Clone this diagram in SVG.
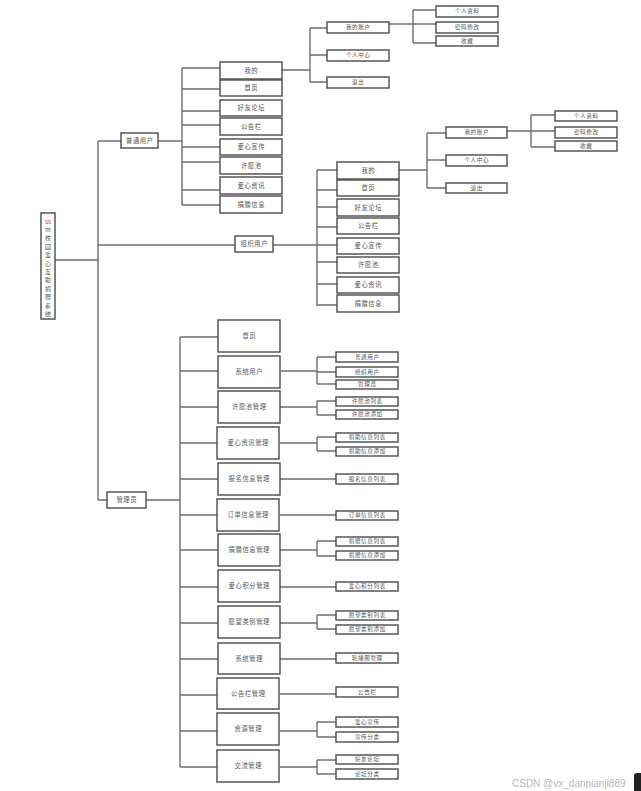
<svg xmlns="http://www.w3.org/2000/svg" width="641" height="791" viewBox="0 0 641 791">
<style>
.b{fill:#fff;stroke:#4a4a4a;stroke-width:1.4}
.c{fill:none;stroke:#6e6e6e;stroke-width:1.4}
text{font-family:"Noto Sans CJK SC","Noto Sans",sans-serif;fill:#555;text-anchor:middle;dominant-baseline:central}
.s{font-size:5.6px;letter-spacing:0.6px}
.m{font-size:6.3px;letter-spacing:0.6px}
.r{font-size:6px}
.w{font-family:"Liberation Sans",Arial,sans-serif;font-size:10px;fill:#b8b8b8;text-anchor:start;letter-spacing:0}
</style>
<rect width="641" height="791" fill="#fff"/>
<g id="connectors" class="c">
<path d="M55 260H98M98 141V500M98 141H121M98 245H236M98 500H107"/>
<path d="M158 141H182M182 68V205M182 68H220M182 89H220M182 111H220M182 125H220M182 147H220M182 162H220M182 190H220M182 205H220"/>
<path d="M282 70H310M310 28V82M310 28H327M310 55H327M310 82H327"/>
<path d="M389 24H436M413 10V43M413 10H436M413 43H436"/>
<path d="M273 245H317M317 170V306M317 170H337M317 190H337M317 207H337M317 227H337M317 245H337M317 262H337M317 284H337M317 305H337"/>
<path d="M399 170H427M427 133V188M427 133H446M427 160H446M427 188H446"/>
<path d="M507 131H555M531 115V147M531 115H555M531 147H555"/>
<path d="M146 500H180M180 337V767M180 337H218M180 371H218M180 407H218M180 443H218M180 479H218M180 515H218M180 550H218M180 587H218M180 623H218M180 659H218M180 695H218M180 731H218M180 767H218"/>
<path d="M281 371H317M317 357V384M317 357H336M317 372H336M317 384H336"/>
<path d="M280 407H317M317 401V415M317 401H336M317 415H336"/>
<path d="M280 443H317M317 437V451M317 437H336M317 451H336"/>
<path d="M280 479H336M280 515H336M280 587H336M280 659H336M280 694H336"/>
<path d="M280 550H317M317 541V556M317 541H336M317 556H336"/>
<path d="M280 623H317M317 615V629M317 615H336M317 629H336"/>
<path d="M280 731H317M317 722V737M317 722H336M317 737H336"/>
<path d="M280 767H317M317 760V774M317 760H336M317 774H336"/>
</g>
<g id="root"><rect class="b" x="41" y="213" width="14" height="106"/>
<text class="r" x="48" y="221" style="fill:#c0392b">ss</text>
<text class="r" x="48" y="229.4">m</text><text class="r" x="48" y="237.8">校</text><text class="r" x="48" y="246.2">园</text><text class="r" x="48" y="254.6">爱</text><text class="r" x="48" y="263">心</text><text class="r" x="48" y="271.4">互</text><text class="r" x="48" y="279.8">助</text><text class="r" x="48" y="288.2">捐</text><text class="r" x="48" y="296.6">赠</text><text class="r" x="48" y="305">系</text><text class="r" x="48" y="313.4">统</text></g>
<g id="n-putong"><rect class="b" x="121" y="133" width="37" height="15"/><text class="m" x="139.8" y="140">普通用户</text></g>
<g id="n-p-wode"><rect class="b" x="220" y="62" width="62" height="17"/><text class="m" x="251.3" y="70">我的</text></g>
<g id="n-p-shouye"><rect class="b" x="220" y="80" width="62" height="16"/><text class="m" x="251.3" y="87.5">首页</text></g>
<g id="n-p-haoyou"><rect class="b" x="220" y="100" width="62" height="16"/><text class="m" x="251.3" y="107.5">好友论坛</text></g>
<g id="n-p-gonggao"><rect class="b" x="220" y="118" width="62" height="17"/><text class="m" x="251.3" y="126">公告栏</text></g>
<g id="n-p-xuanchuan"><rect class="b" x="220" y="139" width="62" height="16"/><text class="m" x="251.3" y="146.5">爱心宣传</text></g>
<g id="n-p-xuyuan"><rect class="b" x="220" y="157" width="62" height="17"/><text class="m" x="251.3" y="165">许愿池</text></g>
<g id="n-p-zixun"><rect class="b" x="220" y="177" width="62" height="17"/><text class="m" x="251.3" y="185">爱心资讯</text></g>
<g id="n-p-juanzeng"><rect class="b" x="220" y="196" width="62" height="17"/><text class="m" x="251.3" y="204">捐赠信息</text></g>
<g id="n-p-zhanghu"><rect class="b" x="327" y="22" width="62" height="11"/><text class="s" x="358.3" y="27">我的账户</text></g>
<g id="n-p-zhongxin"><rect class="b" x="327" y="50" width="62" height="11"/><text class="s" x="358.3" y="55">个人中心</text></g>
<g id="n-p-tuichu"><rect class="b" x="327" y="77" width="62" height="11"/><text class="s" x="358.3" y="82">退出</text></g>
<g id="n-p-ziliao"><rect class="b" x="436" y="6" width="62" height="11"/><text class="s" x="467.3" y="11">个人资料</text></g>
<g id="n-p-mima"><rect class="b" x="436" y="22" width="62" height="11"/><text class="s" x="467.3" y="27">密码修改</text></g>
<g id="n-p-shoucang"><rect class="b" x="436" y="36" width="62" height="10"/><text class="s" x="467.3" y="40.5">收藏</text></g>
<g id="n-zuzhi"><rect class="b" x="235" y="236" width="38" height="16"/><text class="m" x="254.3" y="243.5">组织用户</text></g>
<g id="n-z-wode"><rect class="b" x="337" y="162" width="62" height="17"/><text class="m" x="368.3" y="170">我的</text></g>
<g id="n-z-shouye"><rect class="b" x="337" y="180" width="62" height="16"/><text class="m" x="368.3" y="187.5">首页</text></g>
<g id="n-z-haoyou"><rect class="b" x="337" y="199" width="62" height="17"/><text class="m" x="368.3" y="207">好友论坛</text></g>
<g id="n-z-gonggao"><rect class="b" x="337" y="218" width="62" height="16"/><text class="m" x="368.3" y="225.5">公告栏</text></g>
<g id="n-z-xuanchuan"><rect class="b" x="337" y="238" width="62" height="16"/><text class="m" x="368.3" y="245.5">爱心宣传</text></g>
<g id="n-z-xuyuan"><rect class="b" x="337" y="257" width="62" height="16"/><text class="m" x="368.3" y="264.5">许愿池</text></g>
<g id="n-z-zixun"><rect class="b" x="337" y="277" width="62" height="16"/><text class="m" x="368.3" y="284.5">爱心资讯</text></g>
<g id="n-z-juanzeng"><rect class="b" x="337" y="295" width="62" height="17"/><text class="m" x="368.3" y="303">捐赠信息</text></g>
<g id="n-z-zhanghu"><rect class="b" x="446" y="127" width="61" height="11"/><text class="s" x="476.8" y="132">我的账户</text></g>
<g id="n-z-zhongxin"><rect class="b" x="446" y="155" width="61" height="11"/><text class="s" x="476.8" y="160">个人中心</text></g>
<g id="n-z-tuichu"><rect class="b" x="446" y="183" width="61" height="10"/><text class="s" x="476.8" y="187.5">退出</text></g>
<g id="n-z-ziliao"><rect class="b" x="555" y="111" width="62" height="10"/><text class="s" x="586.3" y="115.5">个人资料</text></g>
<g id="n-z-mima"><rect class="b" x="555" y="127" width="62" height="11"/><text class="s" x="586.3" y="132">密码修改</text></g>
<g id="n-z-shoucang"><rect class="b" x="555" y="141" width="62" height="10"/><text class="s" x="586.3" y="145.5">收藏</text></g>
<g id="n-admin"><rect class="b" x="107" y="492" width="39" height="16"/><text class="m" x="126.8" y="499.5">管理员</text></g>
<g id="n-a-shouye"><rect class="b" x="218" y="320" width="62" height="32"/><text class="m" x="249.3" y="335.5">首页</text></g>
<g id="n-a-yonghu"><rect class="b" x="218" y="356" width="62" height="32"/><text class="m" x="249.3" y="371.5">系统用户</text></g>
<g id="n-a-xuyuan"><rect class="b" x="218" y="391" width="62" height="32"/><text class="m" x="249.3" y="406.5">许愿池管理</text></g>
<g id="n-a-zixun"><rect class="b" x="217" y="427" width="62" height="32"/><text class="m" x="248.3" y="442.5">爱心资讯管理</text></g>
<g id="n-a-baoming"><rect class="b" x="218" y="463" width="62" height="32"/><text class="m" x="249.3" y="478.5">报名信息管理</text></g>
<g id="n-a-dingdan"><rect class="b" x="217" y="499" width="62" height="32"/><text class="m" x="248.3" y="514.5">订单信息管理</text></g>
<g id="n-a-juanzeng"><rect class="b" x="218" y="534" width="62" height="32"/><text class="m" x="249.3" y="549.5">捐赠信息管理</text></g>
<g id="n-a-jifen"><rect class="b" x="218" y="570" width="62" height="32"/><text class="m" x="249.3" y="585.5">爱心积分管理</text></g>
<g id="n-a-leibie"><rect class="b" x="218" y="606" width="62" height="32"/><text class="m" x="249.3" y="621.5">愿望类别管理</text></g>
<g id="n-a-xitong"><rect class="b" x="218" y="643" width="62" height="31"/><text class="m" x="249.3" y="658">系统管理</text></g>
<g id="n-a-gonggao"><rect class="b" x="217" y="678" width="62" height="31"/><text class="m" x="248.3" y="693">公告栏管理</text></g>
<g id="n-a-ziyuan"><rect class="b" x="217" y="713" width="62" height="32"/><text class="m" x="248.3" y="728.5">资源管理</text></g>
<g id="n-a-jiaoliu"><rect class="b" x="217" y="750" width="62" height="32"/><text class="m" x="248.3" y="765.5">交流管理</text></g>
<g id="n-a-putong"><rect class="b" x="336" y="352" width="62" height="10"/><text class="s" x="367.3" y="356.5">普通用户</text></g>
<g id="n-a-zuzhi"><rect class="b" x="336" y="367" width="62" height="10"/><text class="s" x="367.3" y="371.5">组织用户</text></g>
<g id="n-a-guanli"><rect class="b" x="336" y="380" width="62" height="9"/><text class="s" x="367.3" y="384">管理员</text></g>
<g id="n-a-xylb"><rect class="b" x="336" y="397" width="62" height="9"/><text class="s" x="367.3" y="401">许愿池列表</text></g>
<g id="n-a-xytj"><rect class="b" x="336" y="410" width="62" height="9"/><text class="s" x="367.3" y="414">许愿池添加</text></g>
<g id="n-a-jzlb"><rect class="b" x="336" y="433" width="62" height="9"/><text class="s" x="367.3" y="437">捐助信息列表</text></g>
<g id="n-a-jztj"><rect class="b" x="336" y="447" width="62" height="9"/><text class="s" x="367.3" y="451">捐助信息添加</text></g>
<g id="n-a-bmlb"><rect class="b" x="336" y="474" width="62" height="10"/><text class="s" x="367.3" y="478.5">报名信息列表</text></g>
<g id="n-a-ddlb"><rect class="b" x="336" y="511" width="62" height="9"/><text class="s" x="367.3" y="515">订单信息列表</text></g>
<g id="n-a-jzxlb"><rect class="b" x="336" y="537" width="62" height="9"/><text class="s" x="367.3" y="541">捐赠信息列表</text></g>
<g id="n-a-jzxtj"><rect class="b" x="336" y="551" width="62" height="9"/><text class="s" x="367.3" y="555">捐赠信息添加</text></g>
<g id="n-a-jflb"><rect class="b" x="336" y="582" width="62" height="9"/><text class="s" x="367.3" y="586">爱心积分列表</text></g>
<g id="n-a-lblb"><rect class="b" x="336" y="611" width="62" height="9"/><text class="s" x="367.3" y="615">愿望类别列表</text></g>
<g id="n-a-lbtj"><rect class="b" x="336" y="625" width="62" height="9"/><text class="s" x="367.3" y="629">愿望类别添加</text></g>
<g id="n-a-lunbo"><rect class="b" x="336" y="653" width="62" height="10"/><text class="s" x="367.3" y="657.5">轮播图管理</text></g>
<g id="n-a-ggl"><rect class="b" x="336" y="687" width="62" height="10"/><text class="s" x="367.3" y="691.5">公告栏</text></g>
<g id="n-a-axxc"><rect class="b" x="336" y="717" width="62" height="10"/><text class="s" x="367.3" y="721.5">爱心宣传</text></g>
<g id="n-a-xcfl"><rect class="b" x="336" y="732" width="62" height="10"/><text class="s" x="367.3" y="736.5">宣传分类</text></g>
<g id="n-a-hylt"><rect class="b" x="336" y="755" width="62" height="9"/><text class="s" x="367.3" y="759">好友论坛</text></g>
<g id="n-a-ltfl"><rect class="b" x="336" y="769" width="62" height="10"/><text class="s" x="367.3" y="773.5">论坛分类</text></g>
<text class="w" x="512" y="783">CSDN @vx_danpianji889</text>
<rect x="634" y="773" width="12" height="20" rx="3" fill="#222"/>
</svg>
